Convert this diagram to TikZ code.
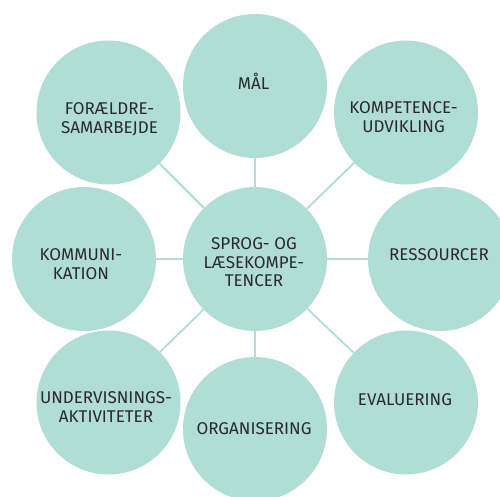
\documentclass[tikz,border=0pt]{standalone}
\usepackage{fontspec}
\setmainfont{Fira Sans}
\definecolor{mint}{HTML}{B0DDD5}
\definecolor{ink}{HTML}{2A2A2A}
\begin{document}
\begin{tikzpicture}[x=1pt,y=-1pt,
  bubble/.style={circle,fill=mint,minimum size=144pt,inner sep=0pt},
  lbl/.style={anchor=base,align=center,text=ink,inner sep=0pt,
    font=\fontsize{17}{18.7}\selectfont},
  link/.style={draw=mint,line width=1.8pt}]
\useasboundingbox (0,0) rectangle (500,496);
\clip (0,0) rectangle (500,496);
% circles
\node[bubble] (c) at (255,259) {};
\node[bubble] (m) at (255,86) {};
\node[bubble] (k) at (406,112.5) {};
\node[bubble] (r) at (440,259) {};
\node[bubble] (e) at (406,402.5) {};
\node[bubble] (o) at (255,429) {};
\node[bubble] (u) at (108.5,402.5) {};
\node[bubble] (ko) at (84,259) {};
\node[bubble] (f) at (108.5,112.5) {};
% connectors
\foreach \n in {m,k,r,e,o,u,ko,f} \draw[link] (c) -- (\n);
% labels (anchor = baseline of last line)
\node[lbl] (tc) at (254,286.7) {SPROG- OG\\LÆSEKOMPE-\\TENCER};
\node[lbl] (tm) at (253.5,89) {MÅL};
\node[lbl] (tk) at (403.5,132) {KOMPETENCE-\\UDVIKLING};
\node[lbl] (tr) at (439,260.7) {RESSOURCER};
\node[lbl] (te) at (405,405) {EVALUERING};
\node[lbl] (to) at (254,434.3) {ORGANISERING};
\node[lbl] (tu) at (106,422.5) {UNDERVISNINGS-\\AKTIVITETER};
\node[lbl] (tko) at (81,279.3) {KOMMUNI-\\KATION};
\node[lbl] (tf) at (109.5,133.5) {FORÆLDRE-\\SAMARBEJDE};
\end{tikzpicture}
\end{document}
